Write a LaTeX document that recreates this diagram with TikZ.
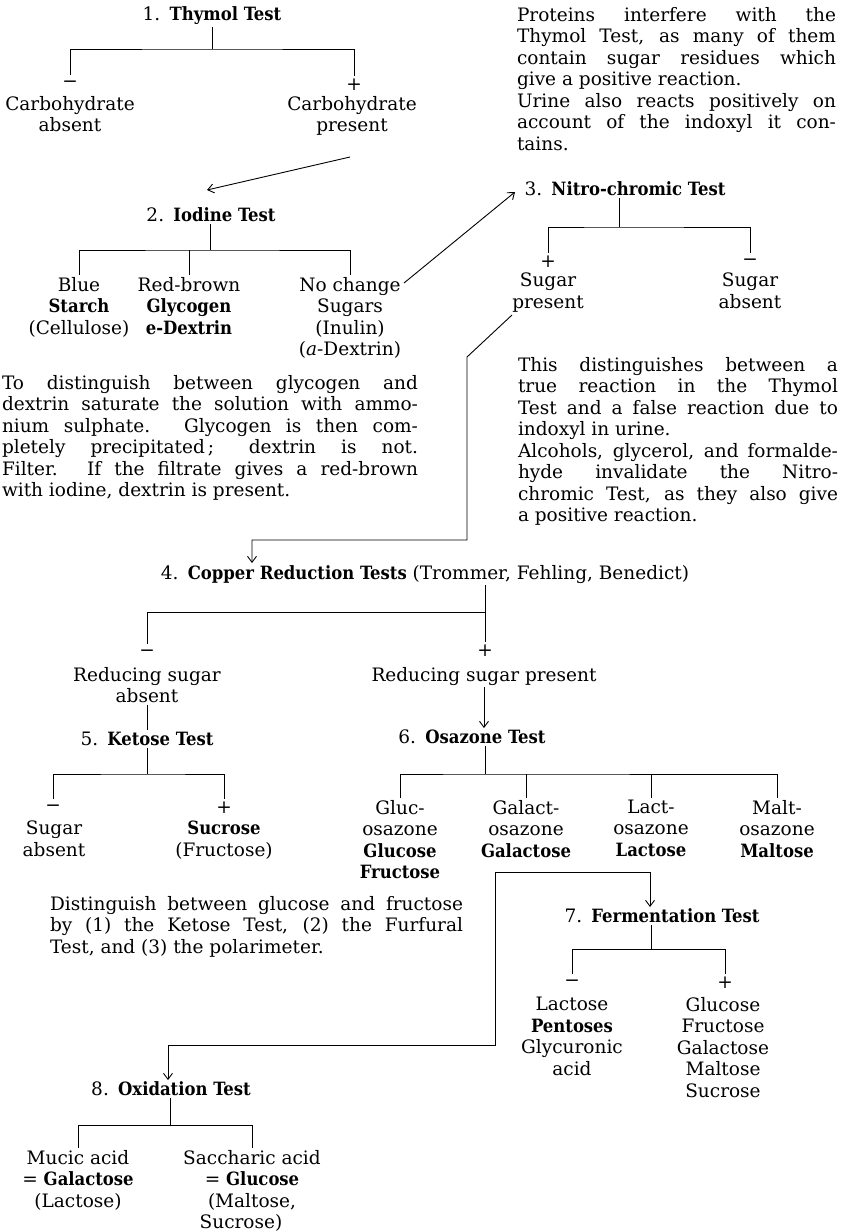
\documentclass[tikz,border=0pt]{standalone}
\usepackage{fontspec}
\usepackage{graphicx}
\setmainfont{DejaVu Serif}
\newfontfamily\labfont{DejaVu Serif Condensed}
\usetikzlibrary{arrows.meta}

% bold test names and substances
\newcommand\tb[1]{{\labfont\bfseries\fontsize{18.3}{21.5}\selectfont #1}}

% justified paragraph lines: \jl spreads a line to the full width, \el ends a paragraph
\newlength\pw
\newsavebox\lbox
\newcommand\jl[1]{\par\sbox\lbox{#1}\ifdim\wd\lbox>\pw\hbox{\resizebox{\pw}{\height}{\usebox\lbox}}\else\hbox to\pw{#1}\fi}
\newcommand\el[1]{\par\hbox{#1}}
\newcommand\para[2]{\parbox[t]{#1}{\setlength\pw{#1}\lineskiplimit=-100pt\relax #2}}

\tikzset{
  txt/.style={inner sep=0pt, outer sep=2pt, anchor=north, align=center},
  sgn/.style={inner sep=0pt, outer sep=0pt, minimum height=18pt},
  para/.style={inner sep=0pt, outer sep=0pt, anchor=north west},
  arr/.style={-{Straight Barb[length=6pt,width=9pt]}},
}

\begin{document}
\begin{tikzpicture}[x=1pt, y=-1pt, line width=0.9pt,
  font=\fontsize{18.5}{21.5}\selectfont]
\useasboundingbox (0,0) rectangle (843,1231);
\fill[white] (0,0) rectangle (843,1231);

% ---------- 1. Thymol test ----------
\node[txt] (T1) at (212,5) {1.\enspace\tb{Thymol Test}};
\coordinate (b1) at (212,49);
\node[sgn] (s1m) at (70,84) {−};
\node[sgn] (s1p) at (354,85) {+};
\node[txt] (L1a) at (70,94) {Carbohydrate\\absent};
\node[txt] (L1b) at (352,94) {Carbohydrate\\present};
\draw (T1.south -| b1) -- (b1);
\draw (s1m.north) |- (b1) -| (s1p.north);

\node[para] (P1) at (517,7) {\para{319pt}{%
  \jl{Proteins interfere with the}
  \jl{Thymol Test, as many of them}
  \jl{contain sugar residues which}
  \el{give a positive reaction.}
  \jl{Urine also reacts positively on}
  \jl{account of the indoxyl it con-}
  \el{tains.}}};

\coordinate (a1s) at (350,157);
\coordinate (a1e) at (207,190);
\draw[arr] (a1s) -- (a1e);

% ---------- 2. Iodine test ----------
\node[txt] (T2) at (211,206) {2.\enspace\tb{Iodine Test}};
\coordinate (b2) at (210,250);
\node[txt] (L2a) at (79,275) {Blue\\\tb{Starch}\\(Cellulose)};
\node[txt] (L2b) at (189,275) {Red-brown\\\tb{Glycogen}\\\tb{e-Dextrin}};
\node[txt] (L2c) at (350,275) {No change\\Sugars\\(Inulin)\\(\textit{a}-Dextrin)};
\draw (T2.south -| b2) -- (b2);
\draw (L2a.north) |- (b2) -| (L2c.north);
\draw (L2b.north) -- (L2b.north |- b2);

\node[para] (P2) at (2,375) {\para{416pt}{%
  \jl{To distinguish between glycogen and}
  \jl{dextrin saturate the solution with ammo-}
  \jl{nium sulphate. Glycogen is then com-}
  \jl{pletely precipitated\,; dextrin is not.}
  \jl{Filter. If the filtrate gives a red-brown}
  \el{with iodine, dextrin is present.}}};

\coordinate (a2s) at (404,283);
\coordinate (a2e) at (515,192);
\draw[arr] (a2s) -- (a2e);

% ---------- 3. Nitro-chromic test ----------
\node[txt] (T3) at (625,180) {3.\enspace\tb{Nitro-chromic Test}};
\coordinate (b3) at (619,227);
\node[sgn] (s3p) at (548,262) {+};
\node[sgn] (s3m) at (750,262) {−};
\node[txt] (L3a) at (548,271) {Sugar\\present};
\node[txt] (L3b) at (750,271) {Sugar\\absent};
\draw (T3.south -| b3) -- (b3);
\draw (s3p.north) |- (b3) -| (s3m.north);

\node[para] (P3) at (518,357) {\para{320pt}{%
  \jl{This distinguishes between a}
  \jl{true reaction in the Thymol}
  \jl{Test and a false reaction due to}
  \el{indoxyl in urine.}
  \jl{Alcohols, glycerol, and formalde-}
  \jl{hyde invalidate the Nitro-}
  \jl{chromic Test, as they also give}
  \el{a positive reaction.}}};

% ---------- 4. Copper reduction tests ----------
\node[txt] (T4) at (425,563) {4.\enspace\tb{Copper Reduction Tests} (Trommer, Fehling, Benedict)};
\coordinate (c3a) at (512,315);
\coordinate (c3b) at (467,357);
\coordinate (c3d) at (252,540);
\draw[arr] (c3a) -- (c3b) |- (c3d) -- (c3d |- T4.north);

\coordinate (b4) at (485,612);
\node[sgn] (s4m) at (147,653) {−};
\node[sgn] (s4p) at (485,651) {+};
\node[txt] (L4a) at (147,665) {Reducing sugar\\absent};
\node[txt] (L4b) at (484,665) {Reducing sugar present};
\draw (T4.south -| b4) -- (b4);
\draw (s4m.north) |- (b4) -| (s4p.north);

% ---------- 5. Ketose test ----------
\node[txt] (T5) at (147,730) {5.\enspace\tb{Ketose Test}};
\draw (L4a.south) -- (T5.north);
\coordinate (b5) at (147,774);
\node[sgn] (s5m) at (53,808) {−};
\node[sgn] (s5p) at (224,808) {+};
\node[txt] (L5a) at (54,819) {Sugar\\absent};
\node[txt] (L5b) at (224,819) {\tb{Sucrose}\\(Fructose)};
\draw (T5.south) -- (b5);
\draw (s5m.north) |- (b5) -| (s5p.north);

% ---------- 6. Osazone test ----------
\node[txt] (T6) at (472,728) {6.\enspace\tb{Osazone Test}};
\draw[arr] (L4b.south) -- (L4b.south |- T6.north);
\coordinate (b6) at (485,774);
\node[txt] (L6a) at (400,798) {Gluc-\\osazone\\\tb{Glucose}\\\tb{Fructose}};
\node[txt] (L6b) at (526,798) {Galact-\\osazone\\\tb{Galactose}};
\node[txt] (L6c) at (651,798) {Lact-\\osazone\\\tb{Lactose}};
\node[txt] (L6d) at (777,798) {Malt-\\osazone\\\tb{Maltose}};
\draw (T6.south -| b6) -- (b6);
\draw (L6a.north) |- (b6) -| (L6d.north);
\draw (L6b.north) -- (L6b.north |- b6);
\draw (L6c.north) -- (L6c.north |- b6);

\node[para] (P4) at (50,896) {\para{413pt}{%
  \jl{Distinguish between glucose and fructose}
  \jl{by (1) the Ketose Test, (2) the Furfural}
  \el{Test, and (3) the polarimeter.}}};

% ---------- 7. Fermentation test ----------
\node[txt] (T7) at (662,907) {7.\enspace\tb{Fermentation Test}};
\coordinate (g1) at (495,872);
\coordinate (g2) at (650,872);
\draw[arr] (g1) -- (g2) -- (g2 |- T7.north);
\coordinate (b7) at (651,949);
\node[sgn] (s7m) at (572,983) {−};
\node[sgn] (s7p) at (725,983) {+};
\node[txt] (L7a) at (572,995) {Lactose\\\tb{Pentoses}\\Glycuronic\\acid};
\node[txt] (L7b) at (723,995) {Glucose\\Fructose\\Galactose\\Maltose\\Sucrose};
\draw (T7.south -| b7) -- (b7);
\draw (s7m.north) |- (b7) -| (s7p.north);

% ---------- 8. Oxidation test ----------
\node[txt] (T8) at (171,1080) {8.\enspace\tb{Oxidation Test}};
\coordinate (g3) at (168,1045);
\draw[arr] (g1) |- (g3) -- (g3 |- T8.north);
\coordinate (b8) at (170,1125);
\node[txt] (L8a) at (78,1148) {Mucic acid\\= \tb{Galactose}\\(Lactose)};
\node[txt] (L8b) at (252,1148) {Saccharic acid\\= \tb{Glucose}\\(Maltose,\hspace*{20pt}\\Sucrose)\hspace*{22pt}};
\draw (T8.south -| b8) -- (b8);
\draw (L8a.north) |- (b8) -| (L8b.north);
\end{tikzpicture}
\end{document}
